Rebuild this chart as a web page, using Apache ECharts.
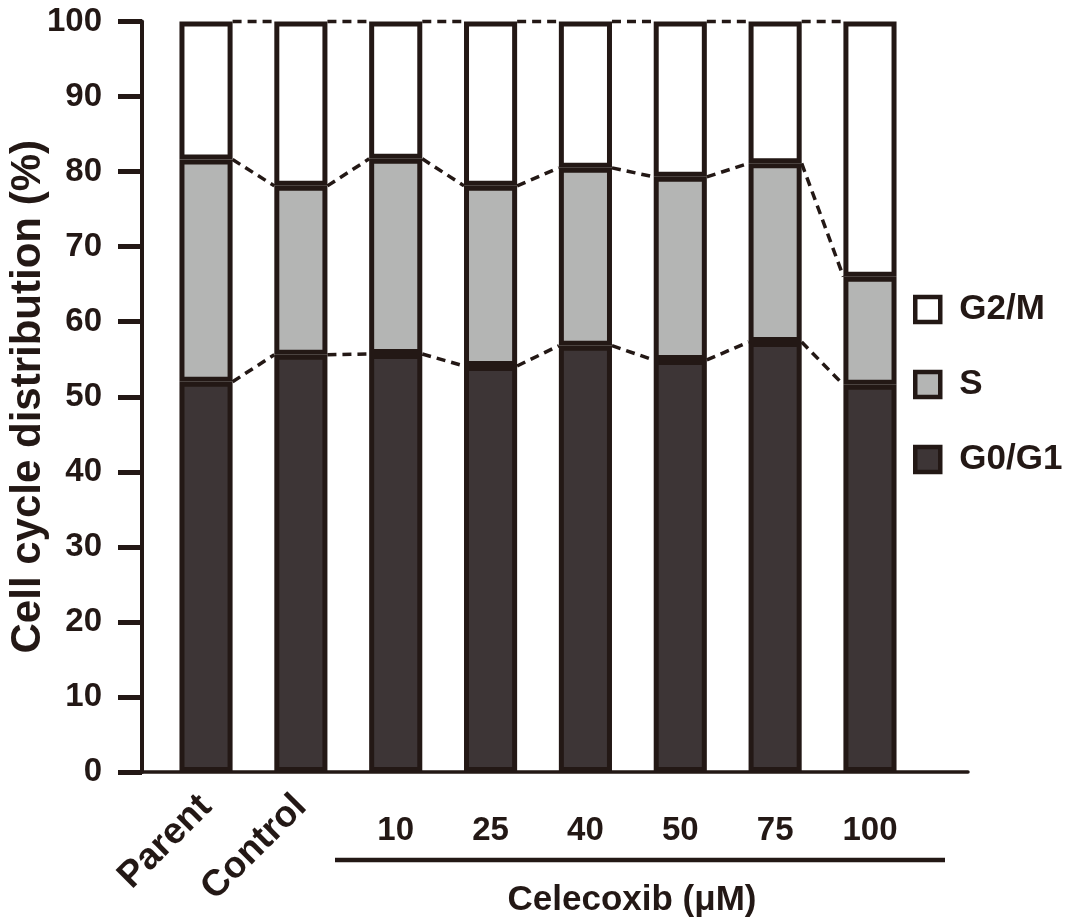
<!DOCTYPE html>
<html><head><meta charset="utf-8">
<script src="https://cdn.jsdelivr.net/npm/echarts@6/dist/echarts.min.js"></script>
<style>html,body{margin:0;padding:0;background:#fff}#c{width:1078px;height:924px}</style>
</head><body><div id="c"></div>
<script>
// ---- data ----
const categories = ['Parent', 'Control', '10', '25', '40', '50', '75', '100'];
const rotatedCategories = ['Parent', 'Control'];
const g0g1 = [52.0, 55.6, 55.7, 54.1, 56.8, 54.9, 57.3, 51.6];
const sPhase = [29.6, 22.5, 26.0, 24.0, 23.7, 24.4, 23.8, 14.4];
const g2m = [18.4, 21.9, 18.3, 21.9, 19.5, 20.7, 18.9, 34.0];
const seriesNames = ['G0/G1', 'S', 'G2/M'];
const legendOrder = ['G2/M', 'S', 'G0/G1'];
const yMin = 0, yMax = 100, yStep = 10;
const yTitle = 'Cell cycle distribution (%)';
const groupTitle = 'Celecoxib (\u03bcM)';

// ---- styles ----
const INK = '#231815';
const FONT = 'Liberation Sans';
const colors = ['#3d3536', '#b4b5b4', '#ffffff'];
const BAR_FRAC = 0.56;

const lvl1 = g0g1.slice();
const lvl2 = g0g1.map((v, i) => v + sPhase[i]);
const lvl3 = lvl2.map((v, i) => v + g2m[i]);
const connectorData = [];
[lvl1, lvl2, lvl3].forEach(lv => {
  for (let i = 0; i < lv.length - 1; i++) connectorData.push([i, lv[i], lv[i + 1]]);
});

const chart = echarts.init(document.getElementById('c'), null, {renderer: 'canvas'});
const txt = {fontFamily: FONT, fontWeight: 'bold', color: INK};

const barSeries = [g0g1, sPhase, g2m].map((arr, k) => ({
  name: seriesNames[k], type: 'bar', stack: 'cc', xAxisIndex: 0, yAxisIndex: 0,
  barWidth: (BAR_FRAC * 100) + '%', data: arr,
  itemStyle: {color: colors[k], borderColor: INK, borderWidth: 5},
  emphasis: {disabled: true}, z: 3
}));

chart.setOption({
  animation: false,
  backgroundColor: '#fff',
  grid: [
    {left: 158.6, right: 160.6, top: 21.5, bottom: 152, outerBoundsMode: 'none', containLabel: false},
    {left: 142, right: 110, top: 21.5, bottom: 152, outerBoundsMode: 'none', containLabel: false}
  ],
  legend: {
    data: legendOrder, orient: 'vertical', left: 908, top: 287,
    itemWidth: 25, itemHeight: 25, itemGap: 40, icon: 'rect',
    itemStyle: {borderColor: INK, borderWidth: 4.5},
    textStyle: Object.assign({fontSize: 35, padding: [0, 0, 0, 14]}, txt),
    selectedMode: false
  },
  xAxis: [
    {type: 'category', gridIndex: 0, data: categories,
     axisLine: {show: false}, axisTick: {show: false},
     axisLabel: Object.assign({rotate: 45, margin: 29, fontSize: 37, interval: 0,
       formatter: v => rotatedCategories.includes(v) ? v : ''}, txt)},
    {type: 'category', gridIndex: 0, data: categories, position: 'bottom',
     axisLine: {show: false}, axisTick: {show: false},
     axisLabel: Object.assign({margin: 42, fontSize: 33, interval: 0,
       formatter: v => rotatedCategories.includes(v) ? '' : v}, txt)},
    {type: 'value', gridIndex: 1, min: 0, max: 1,
     axisLine: {show: true, lineStyle: {color: INK, width: 3.5}},
     axisTick: {show: false}, axisLabel: {show: false}, splitLine: {show: false}}
  ],
  yAxis: [
    {type: 'value', gridIndex: 0, min: yMin, max: yMax, interval: yStep, show: false},
    {type: 'value', gridIndex: 1, min: yMin, max: yMax, interval: yStep,
     name: yTitle, nameLocation: 'middle', nameGap: 93, nameMoveOverlap: false,
     nameTextStyle: Object.assign({fontSize: 42}, txt),
     axisLine: {show: true, lineStyle: {color: INK, width: 4}},
     axisTick: {show: true, length: 24, lineStyle: {color: INK, width: 5}},
     axisLabel: Object.assign({margin: 40, fontSize: 33}, txt),
     splitLine: {show: false}}
  ],
  series: barSeries.concat([{
    type: 'custom', xAxisIndex: 0, yAxisIndex: 0, data: connectorData, z: 2, silent: true,
    encode: {x: 0, y: [1, 2]},
    renderItem: (params, api) => {
      const i = api.value(0), a = api.value(1), b = api.value(2);
      const p1 = api.coord([i, a]), p2 = api.coord([i + 1, b]);
      const half = api.size([1, 0])[0] * BAR_FRAC / 2;
      return {type: 'line', shape: {x1: p1[0] + half, y1: p1[1], x2: p2[0] - half, y2: p2[1]},
        style: {stroke: INK, lineWidth: 3.5, lineDash: [9, 6]}};
    }
  }]),
  graphic: [
    {type: 'line', shape: {x1: 335, y1: 860, x2: 945, y2: 860}, style: {stroke: INK, lineWidth: 4.5}},
    {type: 'text', x: 632, y: 900, style: {text: groupTitle, align: 'center', verticalAlign: 'middle',
      font: 'bold 35px "Liberation Sans"', fill: INK}}
  ]
});
</script></body></html>
